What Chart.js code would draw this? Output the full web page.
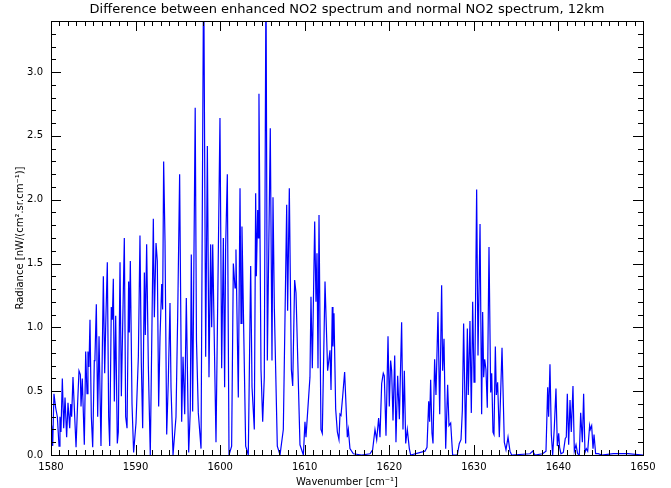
<!DOCTYPE html>
<html lang="en">
<head>
    <meta charset="UTF-8">
    <title>NO2 spectrum difference</title>
    <script src="https://cdn.jsdelivr.net/npm/chart.js"></script>
    <style>
        body {
            margin: 0;
            background-color: #ffffff;
        }
        .chart-container {
            width: 671px;
            height: 488px;
        }
    </style>
</head>
<body>
    <div class="chart-container">
        <canvas id="lineChart" width="671" height="488"></canvas>
    </div>

    <script>
        // values (peaks and troughs)
        const wavenumber = [
            1580.00, 1580.08, 1580.20, 1580.35, 1580.55, 1580.75, 1580.95, 1581.06, 1581.18, 1581.34,
            1581.50, 1581.66, 1581.85, 1582.01, 1582.21, 1582.33, 1582.44, 1582.60, 1582.96, 1583.15,
            1583.31, 1583.47, 1583.55, 1583.70, 1583.94, 1584.10, 1584.26, 1584.37, 1584.49, 1584.61,
            1584.77, 1584.93, 1585.12, 1585.20, 1585.36, 1585.52, 1585.68, 1585.91, 1586.19, 1586.35,
            1586.46, 1586.66, 1586.82, 1586.94, 1587.13, 1587.25, 1587.37, 1587.49, 1587.65, 1587.84,
            1587.96, 1588.16, 1588.32, 1588.47, 1588.67, 1588.83, 1588.99, 1589.18, 1589.26, 1589.38,
            1589.58, 1589.77, 1590.05, 1590.33, 1590.52, 1590.68, 1590.84, 1591.04, 1591.15, 1591.31,
            1591.51, 1591.74, 1592.10, 1592.22, 1592.42, 1592.57, 1592.73, 1592.89, 1593.09, 1593.20,
            1593.32, 1593.48, 1593.68, 1593.87, 1594.07, 1594.19, 1594.43, 1594.78, 1594.98, 1595.21,
            1595.45, 1595.61, 1595.81, 1596.00, 1596.28, 1596.47, 1596.59, 1596.75, 1597.05, 1597.20,
            1597.42, 1597.74, 1598.05, 1598.29, 1598.49, 1598.68, 1598.88, 1599.00, 1599.12, 1599.51,
            1599.98, 1600.18, 1600.38, 1600.53, 1600.65, 1600.85, 1601.05, 1601.36, 1601.56, 1601.76,
            1601.87, 1602.15, 1602.35, 1602.47, 1602.58, 1603.02, 1603.33, 1603.61, 1603.77, 1604.04,
            1604.20, 1604.28, 1604.44, 1604.52, 1604.59, 1604.83, 1605.03, 1605.22, 1605.42, 1605.58,
            1605.93, 1606.13, 1606.25, 1606.41, 1606.76, 1607.08, 1607.47, 1607.87, 1607.98, 1608.18,
            1608.42, 1608.58, 1608.81, 1608.97, 1609.44, 1609.84, 1610.03, 1610.15, 1610.62, 1610.74,
            1610.90, 1611.18, 1611.33, 1611.45, 1611.57, 1611.69, 1611.92, 1612.08, 1612.40, 1612.71,
            1612.99, 1613.11, 1613.26, 1613.34, 1613.46, 1613.66, 1613.86, 1614.05, 1614.17, 1614.29,
            1614.49, 1614.72, 1615.04, 1615.16, 1615.35, 1615.75, 1616.73, 1617.72, 1618.03, 1618.31,
            1618.51, 1618.74, 1618.90, 1619.10, 1619.29, 1619.41, 1619.61, 1619.85, 1620.00, 1620.16,
            1620.28, 1620.44, 1620.64, 1620.79, 1620.99, 1621.19, 1621.46, 1621.62, 1621.78, 1621.94,
            1622.13, 1622.37, 1622.53, 1624.22, 1624.46, 1624.66, 1624.77, 1624.89, 1625.05, 1625.17,
            1625.36, 1625.52, 1625.76, 1625.96, 1626.19, 1626.31, 1626.47, 1626.67, 1626.90, 1627.06,
            1627.26, 1627.49, 1628.04, 1628.28, 1628.48, 1628.64, 1628.79, 1629.03, 1629.23, 1629.34,
            1629.54, 1629.70, 1629.86, 1630.02, 1630.13, 1630.33, 1630.49, 1630.73, 1630.92, 1631.04,
            1631.16, 1631.28, 1631.43, 1631.59, 1631.79, 1631.99, 1632.11, 1632.26, 1632.38, 1632.54,
            1632.66, 1632.81, 1633.01, 1633.33, 1633.60, 1633.80, 1634.04, 1634.27, 1634.47, 1636.64,
            1636.95, 1637.23, 1638.13, 1638.53, 1638.73, 1638.84, 1639.00, 1639.16, 1639.32, 1639.51,
            1639.71, 1639.87, 1640.03, 1640.14, 1640.30, 1640.58, 1640.81, 1640.93, 1641.05, 1641.21,
            1641.37, 1641.52, 1641.72, 1641.88, 1642.08, 1642.27, 1642.47, 1642.63, 1642.83, 1642.98,
            1643.14, 1643.30, 1643.46, 1643.69, 1643.77, 1643.93, 1644.09, 1644.21, 1644.40, 1644.72,
            1645.11, 1646.50, 1648.20, 1650.00
        ];
        const radiance = [
            0.20, 0.23, 0.07, 0.48, 0.37, 0.30, 0.07, 0.30, 0.18, 0.60,
            0.21, 0.45, 0.14, 0.41, 0.21, 0.40, 0.30, 0.61, 0.06, 0.41,
            0.66, 0.63, 0.38, 0.60, 0.08, 0.81, 0.48, 0.81, 0.69, 1.06,
            0.30, 0.06, 0.74, 0.77, 1.18, 0.30, 0.93, 0.07, 1.40, 0.64,
            0.99, 1.51, 0.30, 0.07, 1.16, 1.06, 1.38, 0.42, 1.09, 0.09,
            0.18, 1.51, 0.46, 0.99, 1.70, 0.30, 0.21, 1.36, 0.96, 1.52,
            0.40, 0.02, 0.25, 0.77, 1.72, 0.72, 0.21, 1.43, 0.94, 1.65,
            0.70, 0.00, 1.85, 1.08, 1.66, 1.52, 0.38, 0.92, 1.34, 1.14,
            2.30, 1.68, 0.16, 0.58, 1.19, 0.53, 0.00, 0.30, 1.09, 2.20,
            0.26, 0.77, 0.32, 1.23, 0.02, 0.35, 1.57, 0.34, 2.72, 0.90,
            0.33, 0.05, 3.90, 0.77, 2.42, 0.61, 1.65, 1.00, 1.65, 0.10,
            2.64, 0.68, 1.70, 0.53, 1.63, 2.20, 0.00, 0.07, 1.50, 1.31,
            1.61, 0.45, 2.09, 1.03, 1.79, 0.07, 0.00, 1.48, 0.53, 0.20,
            2.05, 1.40, 1.92, 1.70, 2.83, 0.67, 0.26, 0.61, 3.80, 0.74,
            2.56, 0.74, 2.02, 1.15, 0.07, 0.00, 0.20, 1.96, 1.13, 2.09,
            0.67, 0.54, 1.37, 1.27, 0.08, 0.00, 0.26, 0.14, 0.61, 1.24,
            0.68, 1.83, 1.20, 1.58, 0.68, 1.88, 0.20, 0.17, 1.36, 0.66,
            0.82, 0.51, 1.16, 0.85, 1.11, 0.36, 0.18, 0.12, 0.32, 0.31,
            0.46, 0.65, 0.14, 0.20, 0.05, 0.01, 0.00, 0.01, 0.04, 0.20,
            0.12, 0.29, 0.14, 0.56, 0.64, 0.62, 0.15, 0.93, 0.38, 0.74,
            0.66, 0.27, 0.78, 0.10, 0.62, 0.28, 1.04, 0.20, 0.66, 0.09,
            0.20, 0.05, 0.00, 0.03, 0.06, 0.42, 0.26, 0.59, 0.17, 0.09,
            0.75, 0.47, 1.12, 0.32, 1.33, 0.66, 0.91, 0.05, 0.55, 0.23,
            0.25, 0.00, 0.00, 0.09, 0.12, 0.35, 1.03, 0.09, 0.99, 0.47,
            1.05, 0.33, 1.20, 0.57, 0.72, 2.08, 0.78, 1.81, 0.32, 1.12,
            0.61, 0.75, 0.67, 0.37, 1.63, 0.49, 0.64, 0.18, 0.16, 0.85,
            0.47, 0.57, 0.14, 0.84, 0.10, 0.04, 0.14, 0.03, 0.00, 0.01,
            0.03, 0.00, 0.01, 0.03, 0.53, 0.30, 0.71, 0.16, 0.00, 0.21,
            0.52, 0.07, 0.17, 0.06, 0.01, 0.02, 0.13, 0.14, 0.48, 0.08,
            0.43, 0.18, 0.54, 0.03, 0.08, 0.01, 0.00, 0.33, 0.10, 0.48,
            0.02, 0.05, 0.03, 0.23, 0.20, 0.23, 0.05, 0.16, 0.01, 0.01,
            0.00, 0.01, 0.01, 0.00
        ];
        const xTickLabels = [1580, 1590, 1600, 1610, 1620, 1630, 1640, 1650];
        const yTickLabels = [0.0, 0.5, 1.0, 1.5, 2.0, 2.5, 3.0];
        const chartTitle = 'Difference between enhanced NO2 spectrum and normal NO2 spectrum, 12km';

        const fontName = "'DejaVu Sans', sans-serif";

        // frame, inward tick marks on all four sides and the centred title, IDL style
        const frameTicks = {
            id: 'frameTicks',
            afterDatasetsDraw(chart) {
                const { ctx, chartArea: a, scales: { x, y } } = chart;
                ctx.save();
                ctx.strokeStyle = '#000';
                ctx.lineWidth = 1;
                ctx.strokeRect(Math.round(a.left) + 0.5, Math.round(a.top) + 0.5,
                    Math.round(a.right - a.left), Math.round(a.bottom - a.top));
                ctx.beginPath();
                for (let v = x.min; v <= x.max; v++) {
                    const px = Math.round(x.getPixelForValue(v)) + 0.5;
                    const len = v % 10 === 0 ? 10 : 5;
                    ctx.moveTo(px, a.bottom); ctx.lineTo(px, a.bottom - len);
                    ctx.moveTo(px, a.top); ctx.lineTo(px, a.top + len);
                }
                for (let i = 0; i <= Math.round(y.max * 10); i++) {
                    const py = Math.round(y.getPixelForValue(i / 10)) + 0.5;
                    const len = i % 5 === 0 ? 10 : 5;
                    ctx.moveTo(a.left, py); ctx.lineTo(a.left + len, py);
                    ctx.moveTo(a.right, py); ctx.lineTo(a.right - len, py);
                }
                ctx.stroke();

                ctx.fillStyle = '#000';
                ctx.font = '13px ' + fontName;
                ctx.textAlign = 'center';
                ctx.textBaseline = 'middle';
                ctx.fillText(chartTitle, (a.left + a.right) / 2, 10);
                ctx.restore();
            }
        };

        const ctx1 = document.getElementById('lineChart').getContext('2d');
        new Chart(ctx1, {
            type: 'line',
            data: {
                datasets: [{
                    label: 'Difference',
                    data: wavenumber.map((w, i) => ({ x: w, y: radiance[i] })),
                    borderColor: '#0000ff',
                    borderWidth: 1.2,
                    pointRadius: 0,
                    tension: 0,
                    fill: false
                }]
            },
            options: {
                responsive: false,
                animation: false,
                layout: { padding: { left: 0, right: 28, top: 21, bottom: 0 } },
                plugins: {
                    legend: { display: false },
                    tooltip: { enabled: false },
                    title: { display: false }
                },
                scales: {
                    x: {
                        type: 'linear',
                        min: 1580,
                        max: 1650,
                        afterFit: (scale) => { scale.height = 33; },
                        afterBuildTicks: (scale) => { scale.ticks = xTickLabels.map(v => ({ value: v })); },
                        grid: { display: false, drawTicks: false, tickLength: 0 },
                        border: { display: false },
                        ticks: {
                            color: '#000',
                            font: { family: fontName, size: 10 },
                            padding: 6,
                            maxRotation: 0,
                            callback: (v) => String(v)
                        },
                        title: {
                            display: true,
                            text: 'Wavenumber [cm\u207B\u00B9]',
                            color: '#000',
                            font: { family: fontName, size: 10 },
                            padding: { top: 1, bottom: 0 }
                        }
                    },
                    y: {
                        type: 'linear',
                        min: 0,
                        max: 3.4,
                        afterFit: (scale) => { scale.width = 51; },
                        afterBuildTicks: (scale) => { scale.ticks = yTickLabels.map(v => ({ value: v })); },
                        grid: { display: false, drawTicks: false, tickLength: 0 },
                        border: { display: false },
                        ticks: {
                            color: '#000',
                            font: { family: fontName, size: 10 },
                            padding: 8,
                            callback: (v) => v.toFixed(1)
                        },
                        title: {
                            display: true,
                            text: 'Radiance [nW/(cm\u00B2.sr.cm\u207B\u00B9)]',
                            color: '#000',
                            font: { family: fontName, size: 10 },
                            padding: { top: 14, bottom: 0 }
                        }
                    }
                }
            },
            plugins: [frameTicks]
        });
    </script>
</body>
</html>
